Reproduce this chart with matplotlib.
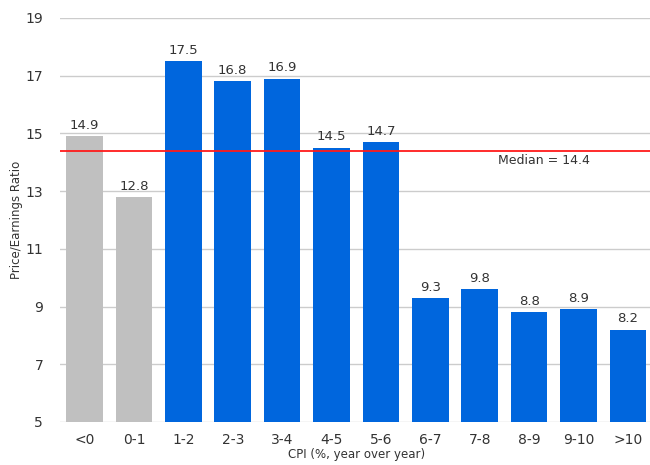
import matplotlib
matplotlib.use("Agg")
from matplotlib import pyplot as plt
import numpy as np

categories = ['<0', '0-1', '1-2', '2-3', '3-4', '4-5', '5-6', '6-7', '7-8', '8-9', '9-10', '>10']
heights = [14.9, 12.8, 17.5, 16.8, 16.9, 14.5, 14.7, 9.3, 9.6, 8.8, 8.9, 8.2]
labels = ['14.9', '12.8', '17.5', '16.8', '16.9', '14.5', '14.7', '9.3', '9.8', '8.8', '8.9', '8.2']
colors = ['#c0c0c0'] * 2 + ['#0066dd'] * 10
median = 14.4
yticks = [5, 7, 9, 11, 13, 15, 17, 19]

fig = plt.figure(figsize=(6.5, 4.65), dpi=100)
ax = fig.add_axes([0.092, 0.0925, 0.912, 0.869])

x = np.arange(len(categories))
ax.bar(x, np.array(heights) - 5, bottom=5, width=0.74, color=colors, zorder=2)
for xi, h, lab in zip(x, heights, labels):
    ax.text(xi, h + 0.15, lab, ha='center', va='bottom', fontsize=9.5, color='#333333', zorder=3)

ax.axhline(median, color='#ff1a1a', lw=1.3, zorder=4)
ax.text(9.3, median - 0.35, 'Median = 14.4', ha='center', va='center', fontsize=9, color='#333333')

ax.set_xlim(-0.5, 11.5)
ax.set_ylim(5, 19)
ax.set_yticks(yticks)
ax.set_xticks(x)
ax.set_xticklabels(categories)
ax.yaxis.grid(True, color='#cccccc', lw=1)
ax.set_axisbelow(True)
for s in ax.spines.values():
    s.set_visible(False)
ax.tick_params(length=0, labelsize=10, colors='#333333', pad=8)
ax.tick_params(axis='y', pad=12)

ax.set_ylabel('Price/Earnings Ratio', fontsize=8.5, color='#333333', labelpad=2)
ax.set_xlabel('CPI (%, year over year)', fontsize=8.5, color='#333333', labelpad=1)

fig.savefig('out.png', dpi=100)
